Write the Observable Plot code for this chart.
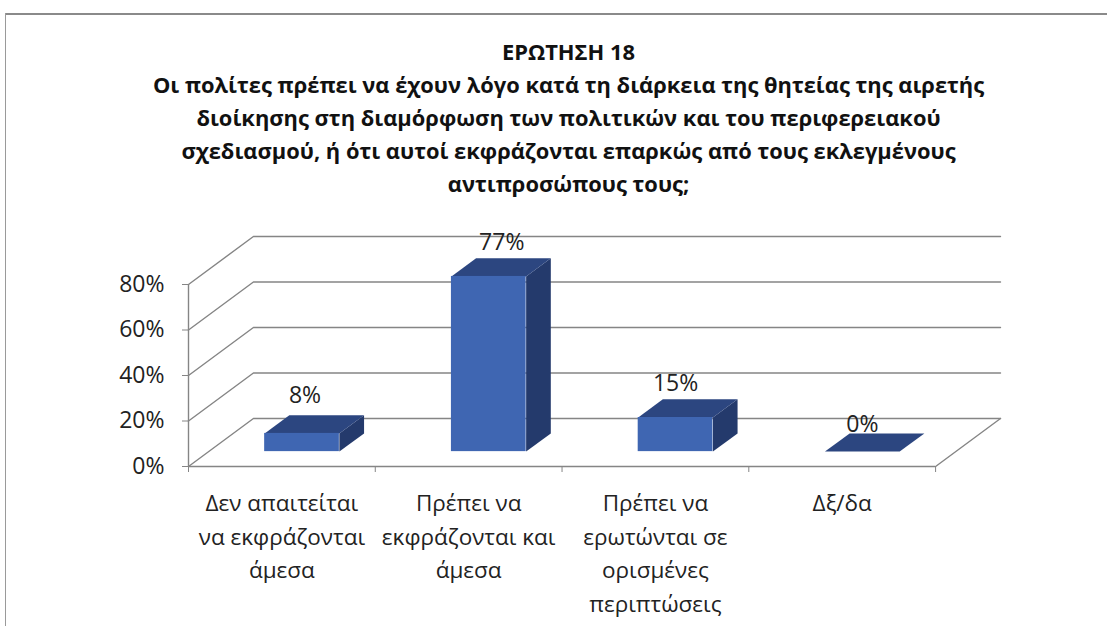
<!DOCTYPE html>
<html lang="el">
<head>
<meta charset="utf-8">
<script src="https://cdn.jsdelivr.net/npm/d3@7"></script>
<script src="https://cdn.jsdelivr.net/npm/@observablehq/plot@0.6"></script>
<style>
  html, body { margin: 0; padding: 0; background: #fff; overflow: hidden; }
  #page { position: absolute; left: 0; top: 0; width: 1107px; height: 626px; }
  #rule-top { position: absolute; left: 5px; top: 13px; width: 1102px; border-top: 2px solid #8a8a8a; }
  #rule-left { position: absolute; left: 5px; top: 13px; height: 613px; border-left: 1.5px solid #9a9a9a; }
  #title { position: absolute; left: 0; top: 35px; width: 1137px; text-align: center;
    font: bold 21.9px/33px "Open Sans", sans-serif; color: #111; white-space: pre; }
  #chart { position: absolute; left: 0; top: 210px; }
  #chart svg { overflow: visible; }
</style>
</head>
<body>
<div id="page">
  <div id="rule-top"></div><div id="rule-left"></div>
  <div id="title"></div>
  <div id="chart"></div>
</div>
<script>
const titleLines = [
  "ΕΡΩΤΗΣΗ 18",
  "Οι πολίτες πρέπει να έχουν λόγο κατά τη διάρκεια της θητείας της αιρετής",
  "διοίκησης στη διαμόρφωση των πολιτικών και του περιφερειακού",
  "σχεδιασμού, ή ότι αυτοί εκφράζονται επαρκώς από τους εκλεγμένους",
  "αντιπροσώπους τους;"
];
const categories = [
  "Δεν απαιτείται\nνα εκφράζονται\nάμεσα",
  "Πρέπει να\nεκφράζονται και\nάμεσα",
  "Πρέπει να\nερωτώνται σε\nορισμένες\nπεριπτώσεις",
  "Δξ/δα"
];
const values = [8, 77, 15, 0];
const yTicks = [0, 20, 40, 60, 80];

document.getElementById("title").textContent = titleLines.join("\n");

// oblique projection: depth d (0 front, 1 back) expressed in the units of each scale
const depthX = 65 / 187, depthY = 21.1;
const px = (i, d) => i + d * depthX;
const py = (v, d) => v + d * depthY;
const barFront = 0.31, barBack = 0.69, barWidth = 0.4;

const n = categories.length;
const rows = values.map((value, i) => ({i, value, label: value + "%", category: categories[i],
  x0: i + 0.5 - barWidth / 2, x1: i + 0.5 + barWidth / 2}));

const face = (r, pts) => pts.map(([x, v, d]) => ({id: r.i, x: px(x, d), y: py(v, d)}));
const topFaces = rows.flatMap(r => face(r, [[r.x0, r.value, barFront], [r.x1, r.value, barFront], [r.x1, r.value, barBack], [r.x0, r.value, barBack]]));
const sideFaces = rows.filter(r => r.value > 0).flatMap(r => face(r, [[r.x1, 0, barFront], [r.x1, r.value, barFront], [r.x1, r.value, barBack], [r.x1, 0, barBack]]));

const gridStroke = "#858585";
const wallLines = yTicks.flatMap(v => [
  {id: v, x: px(0, 0), y: py(v, 0)},
  {id: v, x: px(0, 1), y: py(v, 1)},
  {id: v, x: px(n, 1), y: py(v, 1)}
]);
const floorEdge = [
  {x: px(n, 0), y: py(0, 0)},
  {x: px(n, 1), y: py(0, 1)}
];

const labelNudge = [[3, -38], [13, -34], [0, -34], [0, -27]];

const plot = Plot.plot({
  width: 1107, height: 416,
  marginLeft: 188, marginRight: 107, marginTop: 26, marginBottom: 160,
  x: {domain: [0, n + depthX], axis: null},
  y: {domain: [0, 80 + depthY], axis: null},
  style: {background: "transparent", fontFamily: '"Open Sans", sans-serif', color: "#222"},
  marks: [
    Plot.line(wallLines, {x: "x", y: "y", z: "id", stroke: gridStroke, strokeWidth: 1.4}),
    Plot.line(floorEdge, {x: "x", y: "y", stroke: gridStroke, strokeWidth: 1.4}),
    Plot.ruleX([0], {y1: 0, y2: 80, stroke: gridStroke, strokeWidth: 1.4}),
    Plot.ruleY([0], {x1: 0, x2: n, stroke: gridStroke, strokeWidth: 1.4}),
    Plot.axisY({ticks: yTicks, tickFormat: d => d + "%", tickSize: 6, tickPadding: 18, fontSize: 23,
      stroke: gridStroke, fill: "#222", label: null}),
    Plot.axisX({ticks: d3.range(n + 1), tickFormat: () => "", tickSize: 6, stroke: gridStroke, label: null}),
    Plot.text(rows, {x: d => d.i + 0.5, y: 0, text: "category", fontSize: 22.5, lineHeight: 1.49,
      lineAnchor: "top", textAnchor: "middle", dy: 21, fill: "#222"}),
    Plot.line(sideFaces, {x: "x", y: "y", z: "id", fill: "#243a6c", stroke: "none"}),
    Plot.line(topFaces, {x: "x", y: "y", z: "id", fill: "#2c4680", stroke: "none"}),
    Plot.rect(rows.filter(r => r.value > 0), {
      x1: d => px(d.x0, barFront), x2: d => px(d.x1, barFront),
      y1: d => py(0, barFront), y2: d => py(d.value, barFront), fill: "#3f66b2"
    }),
    ...rows.map((r, k) => Plot.text([r], {
      x: d => px(d.i + 0.5, barFront), y: d => py(d.value, barFront), text: "label",
      dx: labelNudge[k][0], dy: labelNudge[k][1], fontSize: 23, fill: "#222"
    }))
  ]
});
document.getElementById("chart").append(plot);
</script>
</body>
</html>
